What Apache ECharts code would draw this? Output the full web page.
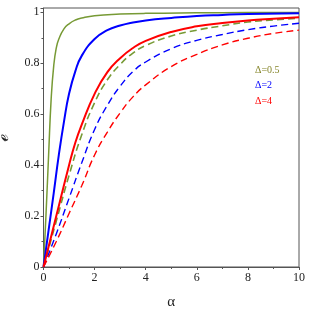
<!DOCTYPE html>
<html>
<head>
<meta charset="utf-8">
<script src="https://cdn.jsdelivr.net/npm/echarts@6/dist/echarts.min.js"></script>
<style>html,body{margin:0;padding:0;background:#fff}#c{width:309px;height:309px}</style>
</head>
<body>
<div id="c"></div>
<script>
// alpha sample points
const alphaA = [0, 0.1, 0.2, 0.3, 0.4, 0.5, 0.6, 0.8, 1, 1.25, 1.5, 2, 3, 4, 6, 8, 10];
const greenSolid = [0, 0.21, 0.44, 0.66, 0.79, 0.86, 0.895, 0.935, 0.955, 0.97, 0.978, 0.987, 0.993, 0.996, 0.998, 0.999, 0.999];

const alphaB = [0, 0.2, 0.4, 0.6, 0.8, 1, 1.25, 1.5, 2, 2.5, 3, 3.5, 4, 5, 6, 7, 8, 10];
const blueSolid = [0, 0.145, 0.29, 0.44, 0.57, 0.68, 0.77, 0.83, 0.895, 0.93, 0.948, 0.96, 0.968, 0.978, 0.986, 0.99, 0.993, 0.996];

const alphaC = [0, 0.5, 1, 1.25, 1.5, 2, 2.5, 3, 3.5, 4, 5, 6, 7, 8, 9, 10];
const redSolid   = [0, 0.2, 0.4, 0.49, 0.56, 0.68, 0.765, 0.82, 0.86, 0.888, 0.923, 0.945, 0.958, 0.968, 0.975, 0.981];

const alphaD = [0, 0.5, 1, 1.5, 2, 2.5, 3, 3.5, 4, 5, 6, 7, 8, 9, 10];
const greenDashed = [0, 0.18, 0.36, 0.52, 0.645, 0.735, 0.795, 0.84, 0.87, 0.907, 0.93, 0.947, 0.962, 0.97, 0.977];
const blueDashed  = [0, 0.13, 0.27, 0.41, 0.54, 0.635, 0.71, 0.767, 0.805, 0.857, 0.89, 0.913, 0.932, 0.946, 0.957];
const redDashed   = [0, 0.1, 0.21, 0.32, 0.44, 0.53, 0.605, 0.668, 0.715, 0.787, 0.835, 0.872, 0.898, 0.917, 0.93];

const labelTexts = ['Δ=0.5', 'Δ=2', 'Δ=4'];
const labelColors = ['#85852a', '#0000ff', '#ff0000'];
const xTicks = [0, 2, 4, 6, 8, 10];
const yTicks = [0, 0.2, 0.4, 0.6, 0.8, 1];

const GREEN = '#779a35', BLUE = '#0000ff', RED = '#ff0000';

function pairs(xs, ys) { return xs.map((x, i) => [x, ys[i]]); }
function line(name, xs, ys, color, width, dashed) {
  return {
    name, type: 'line', data: pairs(xs, ys), showSymbol: false, symbol: 'none',
    smooth: 0.5,
    lineStyle: { color, width, type: dashed ? [7, 4] : 'solid' },
    animation: false, z: dashed ? 2 : 3
  };
}

const chart = echarts.init(document.getElementById('c'), null, { renderer: 'canvas' });
const serif = 'Liberation Serif';
chart.setOption({
  animation: false,
  grid: { left: 43.5, right: 10, top: 8, bottom: 42, show: true, borderColor: '#555', borderWidth: 1,
          containLabel: false, outerBoundsMode: 'none' },
  xAxis: {
    type: 'value', min: 0, max: 10, interval: 2,
    name: 'α', nameLocation: 'middle', nameGap: 28,
    nameTextStyle: { fontFamily: serif, fontSize: 15, color: '#222' },
    axisLine: { lineStyle: { color: '#555' } },
    axisTick: { length: 3, lineStyle: { color: '#555' } },
    minorTick: { show: true, splitNumber: 2, length: 2, lineStyle: { color: '#555' } },
    axisLabel: { fontFamily: serif, fontSize: 12, color: '#222', margin: 5,
      formatter: v => xTicks.includes(v) ? String(v) : '' },
    splitLine: { show: false }
  },
  yAxis: {
    type: 'value', min: 0, max: 1.017, interval: 0.2,
    name: 'ℯ', nameLocation: 'middle', nameGap: 31,
    nameTextStyle: { fontFamily: 'DejaVu Serif', fontSize: 17, color: '#222' },
    axisLine: { show: true, lineStyle: { color: '#555' } },
    axisTick: { show: true, length: 3, lineStyle: { color: '#555' } },
    minorTick: { show: true, splitNumber: 2, length: 2, lineStyle: { color: '#555' } },
    axisLabel: { fontFamily: serif, fontSize: 12, color: '#222', margin: 4,
      formatter: v => { const r = Math.round(v * 10) / 10; return yTicks.some(t => Math.abs(t - v) < 1e-6) ? String(r) : ''; } },
    splitLine: { show: false }
  },
  series: [
    line('g_dash', alphaD, greenDashed, GREEN, 1.6, true),
    line('b_dash', alphaD, blueDashed, BLUE, 1.4, true),
    line('r_dash', alphaD, redDashed, RED, 1.4, true),
    line('g_solid', alphaA, greenSolid, GREEN, 1.5, false),
    line('b_solid', alphaB, blueSolid, BLUE, 2, false),
    line('r_solid', alphaC, redSolid, RED, 2, false)
  ],
  graphic: labelTexts.map((t, i) => ({
    type: 'text', left: 255, top: 65 + i * 15.5,
    style: { text: t, fill: labelColors[i], font: '10px "Liberation Serif"' }
  }))
});
</script>
</body>
</html>
